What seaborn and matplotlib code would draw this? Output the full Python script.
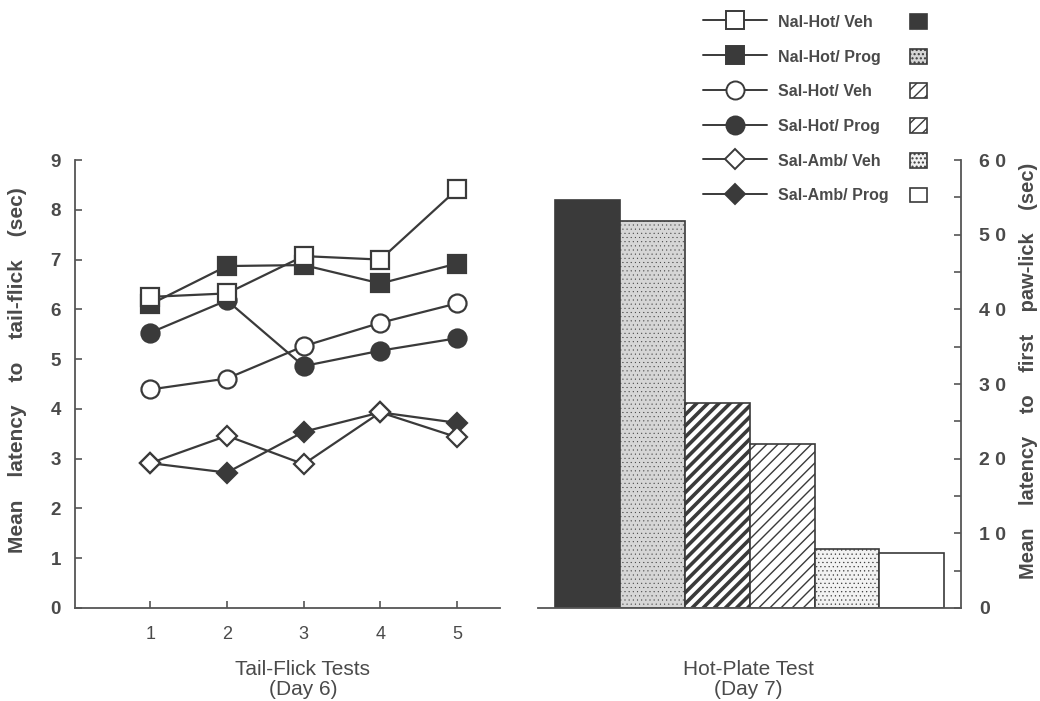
import matplotlib
matplotlib.use("Agg")
import matplotlib.pyplot as plt
from matplotlib.lines import Line2D
from matplotlib.patches import Patch
import seaborn as sns

# values
tests = [1, 2, 3, 4, 5]
nal_hot_veh = [6.25, 6.32, 7.07, 7.00, 8.41]
nal_hot_prog = [6.10, 6.87, 6.89, 6.52, 6.92]
sal_hot_veh = [4.39, 4.61, 5.26, 5.73, 6.12]
sal_hot_prog = [5.53, 6.18, 4.86, 5.17, 5.42]
sal_amb_veh = [2.91, 3.46, 2.89, 3.93, 3.43]
sal_amb_prog = [2.91, 2.72, 3.54, 3.93, 3.72]

groups = ["Nal-Hot/ Veh", "Nal-Hot/ Prog", "Sal-Hot/ Veh",
          "Sal-Hot/ Prog", "Sal-Amb/ Veh", "Sal-Amb/ Prog"]
hot_plate = [54.7, 51.8, 27.5, 21.9, 7.9, 7.3]

left_yticks = [0, 1, 2, 3, 4, 5, 6, 7, 8, 9]
right_yticks = [0, 10, 20, 30, 40, 50, 60]
right_yticklabels = ["0", "1 0", "2 0", "3 0", "4 0", "5 0", "6 0"]

sns.set_style("white")
plt.rcParams['font.family'] = ['Liberation Sans', 'DejaVu Sans']

dark = "#3a3a3a"
txt = "#4a4a4a"
spine_c = "#555555"
gap = "    "

fig = plt.figure(figsize=(10.4, 7.01), dpi=100)
ax1 = fig.add_axes([0.0721, 0.1327, 0.4087, 0.639])
ax2 = fig.add_axes([0.5173, 0.1327, 0.4067, 0.639])

# line series: (values, marker, filled, size) - filled ones drawn first
series = [
    (sal_amb_prog, "D", True, 10),
    (sal_hot_prog, "o", True, 13),
    (nal_hot_prog, "s", True, 13),
    (sal_amb_veh, "D", False, 10),
    (sal_hot_veh, "o", False, 13),
    (nal_hot_veh, "s", False, 13),
]
for vals, mk, filled, ms in series:
    sns.lineplot(x=tests, y=vals, ax=ax1, color=dark, linewidth=1.6,
                 marker=mk, markersize=ms, markeredgewidth=1.6,
                 markeredgecolor=dark,
                 markerfacecolor=dark if filled else "white",
                 legend=False)

ax1.set_xlim(0.02, 5.56)
ax1.set_ylim(0, 9)
ax1.set_xticks(tests)
ax1.set_yticks(left_yticks)
for s in ["top", "right"]:
    ax1.spines[s].set_visible(False)
for s in ["left", "bottom"]:
    ax1.spines[s].set_color(spine_c)
    ax1.spines[s].set_linewidth(1.3)
ax1.tick_params(axis="y", direction="in", length=5, width=1.2, color=spine_c,
                pad=10, labelsize=13.5, labelcolor=txt, left=True)
ax1.tick_params(axis="x", direction="in", length=5, width=1.2, color=spine_c,
                pad=13, labelsize=13, labelcolor=txt, bottom=True)
for lab in ax1.get_yticklabels():
    lab.set_fontweight("bold")
ax1.set_ylabel(gap.join(["Mean", "latency", "to", "tail-flick", "(sec)"]),
               fontsize=15, fontweight="bold", color=txt)
ax1.yaxis.set_label_coords(-0.112, 0.53)
ax1.set_xlabel("Tail-Flick Tests\n(Day 6)", fontsize=15, color=txt,
               linespacing=1.05)
ax1.xaxis.set_label_coords(0.536, -0.117)
ax1.xaxis.label.set_va("top")

# bar chart
sns.barplot(x=groups, y=hot_plate, ax=ax2, color="white", width=1.0,
            edgecolor=dark, linewidth=1.2, saturation=1)
bar_faces = [dark, "#d6d6d6", "white", "white", "#f2f2f2", "white"]
bar_hatches = [None, "....", "///", "///", "....", None]
bar_hlw = [1.0, 0.25, 2.6, 1.0, 0.4, 1.0]
for p, fc, h, hl in zip(ax2.patches, bar_faces, bar_hatches, bar_hlw):
    p.set_facecolor(fc)
    p.set_edgecolor(dark)
    if h:
        p.set_hatch(h)
        if hasattr(p, "set_hatch_linewidth"):
            p.set_hatch_linewidth(hl)

ax2.set_xlim(-0.77, 5.76)
ax2.set_ylim(0, 60)
ax2.set_yticks(right_yticks)
ax2.set_yticklabels(right_yticklabels)
ax2.set_yticks([5, 15, 25, 35, 45, 55], minor=True)
ax2.yaxis.tick_right()
ax2.yaxis.set_label_position("right")
ax2.set_xticks([])
for s in ["top", "left"]:
    ax2.spines[s].set_visible(False)
for s in ["right", "bottom"]:
    ax2.spines[s].set_color(spine_c)
    ax2.spines[s].set_linewidth(1.3)
ax2.tick_params(axis="y", which="both", direction="in", length=5, width=1.2,
                color=spine_c, pad=13, labelsize=14, labelcolor=txt,
                right=True, left=False)
for lab in ax2.get_yticklabels():
    lab.set_fontweight("bold")
ax2.set_ylabel(gap.join(["Mean", "latency", "to", "first", "paw-lick", "(sec)"]),
               fontsize=14.5, fontweight="bold", color=txt, rotation=90)
ax2.yaxis.set_label_coords(1.138, 0.53)
ax2.set_xlabel("Hot-Plate Test\n(Day 7)", fontsize=15, color=txt,
               linespacing=1.05)
ax2.xaxis.set_label_coords(0.497, -0.117)
ax2.xaxis.label.set_va("top")

# legend: line samples + bar swatches in matching rows
legend_marks = [("s", False, 13), ("s", True, 13), ("o", False, 13),
                ("o", True, 13), ("D", False, 10), ("D", True, 10)]
line_handles = [Line2D([], [], color=dark, linewidth=1.4, marker=mk,
                       markersize=ms, markeredgewidth=1.4, markeredgecolor=dark,
                       markerfacecolor=dark if f else "white")
                for mk, f, ms in legend_marks]
leg_kw = dict(loc="upper left", frameon=False, handleheight=1.05,
              labelspacing=1.18, borderpad=0, borderaxespad=0,
              prop={"weight": "bold", "size": 11.5})
leg1 = fig.legend(line_handles, groups, numpoints=1,
                  bbox_to_anchor=(703 / 1040, 1 - 14 / 701),
                  handlelength=4.0, handletextpad=0.7, **leg_kw)
for t in leg1.get_texts():
    t.set_color(txt)

patch_handles = []
for fc, h in zip(bar_faces, bar_hatches):
    patch_handles.append(Patch(facecolor=fc, edgecolor=dark, hatch=h,
                               linewidth=1.2))
leg2 = fig.legend(patch_handles, [""] * 6,
                  bbox_to_anchor=(910 / 1040, 1 - 14 / 701),
                  handlelength=1.05, handletextpad=0, **leg_kw)

fig.savefig("out.png", dpi=100)
